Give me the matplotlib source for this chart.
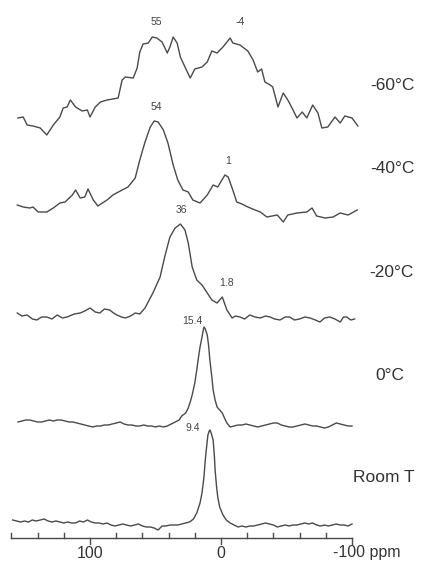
import matplotlib
matplotlib.use("Agg")
import matplotlib.pyplot as plt
import numpy as np

plt.rcParams['font.family'] = ['Liberation Sans', 'DejaVu Sans']

# ---- data (ppm, intensity above each trace's baseline) ----
ppm_m60 = [155, 151, 148, 143.5, 138, 133, 128, 123, 120.5, 117.5, 115, 111, 106, 102, 100, 96, 92, 87,
           82.5, 78.5, 75.5, 73, 67, 64, 62, 59.5, 55.5, 52.5, 49, 45, 41, 39, 36.5, 33.5, 31, 27.5, 23.5,
           20, 14.5, 10.5, 7, 3, -1.5, -7, -9, -14.5, -20.5, -24.5, -28, -31, -33.5, -37.5, -39.5, -43.5,
           -47.5, -51, -55, -58, -62, -65.5, -70, -74, -77, -81.5, -87, -91, -94.5, -100, -104.5]
int_m60 = [10, 11, 3, 2, 0, -7, 3, 11, 20, 21, 28, 21, 17, 18, 11, 21, 26, 28,
           29, 30, 48, 51, 50, 60, 76, 84, 85, 91, 90, 86, 75, 81, 91, 85, 71, 61, 50,
           59, 61, 66, 77, 75, 81, 90, 85, 83, 77, 68, 56, 59, 46, 43, 41, 21,
           35, 28, 18, 10, 16, 10, 23, 15, 0, 1, 11, 5, 12, 10, 2]

ppm_m40 = [155.5, 151, 146, 143.5, 139.5, 133, 128, 123, 119, 113.5, 111, 107.5, 104, 101.5, 97.5, 94,
           87, 82.5, 75.5, 71, 65.5, 62, 58, 54, 51, 48, 44, 40.5, 36.5, 33, 29, 25, 21.5, 16, 10.5, 6,
           2.5, -3, -5.5, -9, -12, -16, -20.5, -26, -30, -35, -43, -47.5, -51, -58, -65.5, -69.5, -73,
           -79.5, -85.5, -91, -97, -104]
int_m40 = [5, 3, 2, 3, -2, -2, 2, 7, 8, 15, 20, 12, 13, 21, 10, 4,
           10, 15, 20, 23, 32, 50, 68, 83, 89, 88, 80, 67, 45, 30, 20, 18, 10, 7, 15, 25,
           23, 35, 33, 20, 8, 6, 3, 0, -2, -7, -5, -12, -5, -3, -2, 2, -6,
           -8, -7, -3, -5, 0]

ppm_m20 = [155.5, 152, 148, 144, 140.5, 137, 133, 129, 125, 121, 117.5, 112, 107.5, 104, 100, 96, 92.5,
           89, 85, 82, 79.5, 76, 73, 69, 65.5, 62, 58, 52, 46.5, 43, 39, 35, 31, 27.5, 25, 22, 18.5,
           14.5, 10.5, 7, 3, -1, -4.5, -8.5, -11, -14.5, -18, -22, -26, -30, -34, -37.5, -41, -45, -49,
           -52.5, -56, -60, -64, -68, -72, -75.5, -79, -83, -87, -91, -93.5, -96, -99, -102]
int_m20 = [5, 2, 3, -1, -2, 1, 1, -1, 3, 0, 1, 4, 5, 7, 10, 6, 5,
           9, 8, 5, 3, 1, 0, 2, 5, 4, 10, 25, 41, 61, 81, 90, 94, 88, 75, 51, 38,
           33, 25, 18, 15, 21, 8, 0, 2, 1, -1, 3, 1, 0, 2, 1, -1, -2, 1,
           1, -2, -1, 1, 0, -2, -4, 0, 1, -1, -4, 1, 1, -2, -1]

ppm_0 = [155, 152, 149, 146, 143, 140, 137, 134, 131, 128, 125, 122, 119, 116, 113, 110, 107, 104, 101, 98,
         95, 92, 89, 86, 83, 80, 77, 74, 71, 68, 65, 62, 59, 56, 53, 50, 47, 44, 41, 38,
         35, 32, 30, 27, 25, 23.5, 22, 20, 18.5, 17.5, 16, 14.5, 13.5, 13, 12, 10.5, 9.5, 8.5, 7, 6,
         4.5, 3, 1, -1, -3, -4.5,
         -7, -10, -13, -16, -19, -22, -25, -28, -31, -34, -37, -40, -43, -46, -49, -52, -55, -58, -61, -64,
         -67, -70, -73, -76, -79, -82, -85, -88, -91, -94, -97, -100]
int_0 = [3, 4, 5, 5, 4, 3, 3, 4, 5, 4, 5, 5, 4, 3, 3, 2, 1, 0, -1, -2,
         -1, -1, 0, 0, 1, 2, 3, 1, 0, 0, -1, -1, 0, -1, -1, -2, -1, -2, -1, 1,
         3, 5, 9, 12, 17, 23, 30, 42, 55, 65, 78, 88, 95, 98, 96, 90, 80, 65, 48, 35,
         25, 18, 15, 12, 6, 2,
         -2, -1, 0, 0, 1, 0, -1, -2, -1, 0, 1, 2, 2, 0, -1, -2, -2, -1, 0, 1,
         0, -1, -1, -2, -3, -2, 0, 2, 1, 0, -1, -1]

ppm_rt = [159, 156, 153, 150, 147, 144, 141, 138, 135, 132, 129, 126, 123, 120, 117, 114, 111, 108, 105, 102,
          99, 96, 93, 90, 87, 84, 81, 78, 75, 72, 69, 66, 63, 60, 57, 54, 51, 48, 45, 42,
          39, 36, 33, 30, 27, 24, 21,
          18.5, 16, 14.5, 13, 12, 11, 10, 9, 8.5, 7.5, 6, 5, 4.5, 3.5, 2.5, 1, -1.5,
          -4, -7, -10, -13, -16, -19, -22, -25, -28, -31, -34, -37, -40, -43, -46, -49, -52, -55, -58, -61,
          -64, -67, -70, -73, -76, -79, -82, -85, -88, -91, -94, -97, -100]
int_rt = [5, 4, 3, 4, 3, 5, 4, 5, 6, 4, 3, 4, 3, 2, 3, 2, 2, 4, 3, 5,
          3, 2, 2, 1, 2, 0, -1, 0, 1, 0, -1, 0, 1, -1, -2, -2, -3, -5, -1, -1,
          0, 0, 0, 1, 2, 3, 6,
          12, 22, 32, 48, 65, 78, 90, 94, 95, 92, 85, 68, 55, 40, 28, 18, 10,
          5, 2, 0, -2, -1, -2, -1, -1, 0, 1, 2, 1, 0, -2, -1, 0, -1, 0, 0, 1,
          2, 1, 2, 0, -1, 0, -1, 0, 1, 0, 0, -1, 1]

traces = [(ppm_m60, int_m60), (ppm_m40, int_m40), (ppm_m20, int_m20), (ppm_0, int_0), (ppm_rt, int_rt)]
offsets = [441, 359, 251, 144, 44]
temp_labels = ['-60°C', '-40°C', '-20°C', '0°C', 'Room T']
temp_label_pos = [(-130.5, 484, 'center'), (-130.5, 401, 'center'), (-130, 297, 'center'),
                  (-129, 194, 'center'), (-100.8, 91, 'left')]

peak_labels = ['55', '-4', '54', '1', '36', '1.8', '15.4', '9.4']
peak_label_pos = [(49, 547), (-14.5, 547), (49, 462), (-5.5, 408), (30, 359), (-4.5, 286), (22, 248), (21.5, 141)]

minor_ticks = [160, 140, 120, 80, 60, 40, 20, -20, -40, -60, -80]
major_ticks = [100, 0, -100]
tick_labels = ['100', '0', '-100 ppm']

# ---- figure ----
fig = plt.figure(figsize=(4.24, 5.69), dpi=100)
ax = fig.add_axes([0, 0, 1, 1])
ax.set_xlim(221 / 1.31, (221 - 424) / 1.31)
ax.set_ylim(0, 569)
ax.axis('off')

line_color = '#4a4a4a'
for (x, y), off in zip(traces, offsets):
    n = min(len(x), len(y))
    ax.plot(x[:n], np.array(y[:n]) + off, color=line_color, lw=1.0, solid_joinstyle='round')

for txt, (x, y, ha) in zip(temp_labels, temp_label_pos):
    ax.text(x, y, txt, fontsize=12.5, color='#333333', ha=ha, va='center')

for txt, (x, y) in zip(peak_labels, peak_label_pos):
    ax.text(x, y, txt, fontsize=7.5, color='#444444', ha='center', va='center')

# ppm axis
ax_y = 31
ax.plot([160, -100], [ax_y, ax_y], color=line_color, lw=1.0)
for t in minor_ticks:
    ax.plot([t, t], [ax_y, ax_y + 5], color=line_color, lw=1.0)
for t in major_ticks:
    ax.plot([t, t], [ax_y, ax_y - 6], color=line_color, lw=1.0)
ax.text(100, 16, tick_labels[0], fontsize=11.5, color='#333333', ha='center', va='center')
ax.text(0, 16, tick_labels[1], fontsize=11.5, color='#333333', ha='center', va='center')
ax.text(-85.5, 16, tick_labels[2], fontsize=11.5, color='#333333', ha='left', va='center')

fig.savefig('out.png', dpi=100, facecolor='white')
